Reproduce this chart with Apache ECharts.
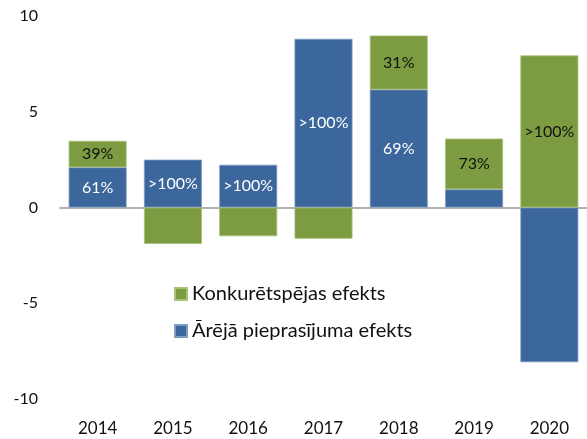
<!DOCTYPE html>
<html>
<head>
<meta charset="utf-8">
<script src="https://cdn.jsdelivr.net/npm/echarts@6/dist/echarts.min.js"></script>
<style>
  html, body { margin: 0; padding: 0; background: #fff; }
  #chart { width: 587px; height: 439px; }
</style>
</head>
<body>
<div id="chart"></div>
<script>
// data
let years = ['2014', '2015', '2016', '2017', '2018', '2019', '2020'];
let demand = [2.1, 2.5, 2.23, 8.81, 6.16, 0.95, -8.08];       // Ārējā pieprasījuma efekts
let compet = [1.38, -1.9, -1.5, -1.63, 2.82, 2.65, 7.94];     // Konkurētspējas efekts
let demandLabels = ['61%', '>100%', '>100%', '>100%', '69%', '', ''];
let competLabels = ['39%', '', '', '', '31%', '73%', '>100%'];
let yTicks = [-10, -5, 0, 5, 10];

let font = 'Lato';
let chart = echarts.init(document.getElementById('chart'));

let option = {
    animation: false,
    textStyle: { fontFamily: font },
    grid: { left: 60, right: -4, top: 16, bottom: 40 },
    legend: {
        orient: 'vertical',
        left: 169,
        top: 279,
        itemWidth: 12,
        itemHeight: 12,
        itemGap: 17,
        icon: 'rect',
        data: ['Konkurētspējas efekts', 'Ārējā pieprasījuma efekts'],
        textStyle: { fontFamily: font, fontSize: 20, color: '#111' }
    },
    xAxis: [
        {
            type: 'category',
            data: years,
            axisLine: { show: false, onZero: false },
            axisTick: { show: false },
            axisLabel: { margin: 21, fontSize: 17, color: '#111', fontFamily: font }
        },
        {
            // plain gray line at zero
            type: 'category',
            data: years,
            position: 'bottom',
            axisLine: { show: true, onZero: true, lineStyle: { color: '#999', width: 1.5 } },
            axisTick: { show: false },
            axisLabel: { show: false }
        }
    ],
    yAxis: {
        type: 'value',
        min: yTicks[0],
        max: yTicks[yTicks.length - 1],
        interval: 5,
        axisLine: { show: false },
        axisTick: { show: false },
        splitLine: { show: false },
        axisLabel: { margin: 22, fontSize: 16, color: '#111', fontFamily: font }
    },
    series: [
        {
            name: 'Ārējā pieprasījuma efekts',
            type: 'bar',
            stack: 'total',
            data: demand,
            barCategoryGap: '23%',
            itemStyle: { color: '#3c679c', borderColor: '#7d9cc2', borderWidth: 0.8 },
            label: {
                show: true,
                position: 'inside',
                color: '#fff',
                fontSize: 16,
                fontFamily: font,
                formatter: (p) => demandLabels[p.dataIndex]
            }
        },
        {
            name: 'Konkurētspējas efekts',
            type: 'bar',
            stack: 'total',
            data: compet,
            barCategoryGap: '23%',
            itemStyle: { color: '#7d9b40', borderColor: '#a8c27a', borderWidth: 0.8 },
            label: {
                show: true,
                position: 'inside',
                color: '#111',
                fontSize: 16,
                fontFamily: font,
                formatter: (p) => competLabels[p.dataIndex]
            }
        }
    ]
};

chart.setOption(option);
</script>
</body>
</html>
